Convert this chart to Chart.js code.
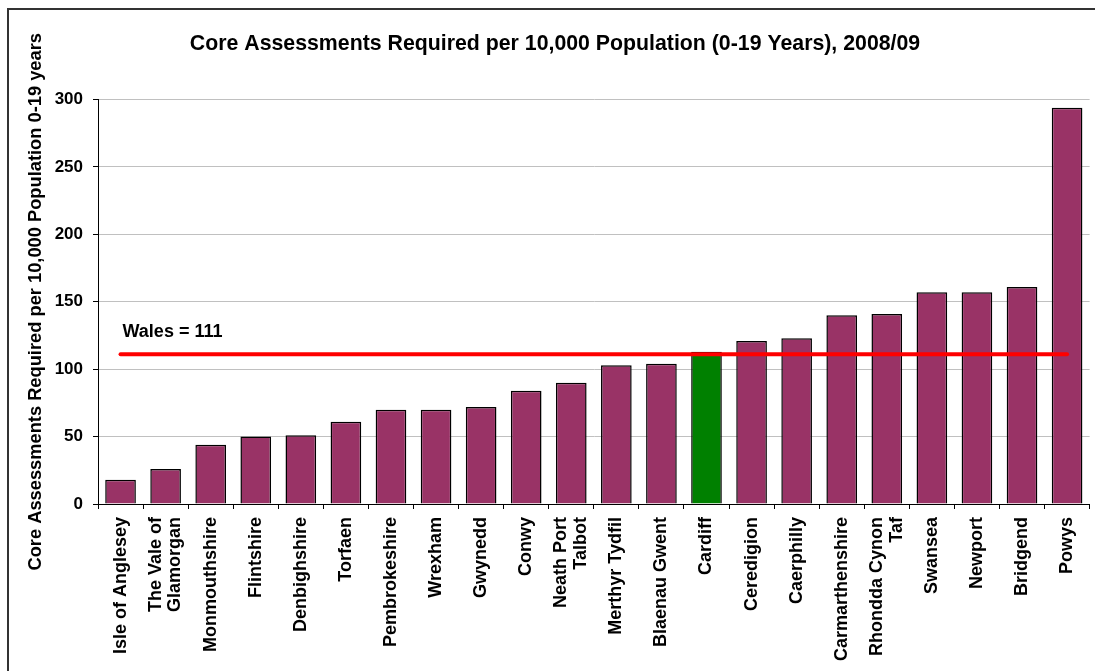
<!DOCTYPE html>
<html>
<head>
<meta charset="utf-8">
<title>Core Assessments Required per 10,000 Population</title>
<script src="https://cdn.jsdelivr.net/npm/chart.js@4"></script>
<style>
    body { margin: 0; background: #fff; }
    #wrap { width: 1095px; height: 671px; position: relative; }
</style>
</head>
<body>
<div id="wrap"><canvas id="chart"></canvas></div>
<script>
// values
const regions = [
    'Isle of Anglesey', 'The Vale of Glamorgan', 'Monmouthshire', 'Flintshire',
    'Denbighshire', 'Torfaen', 'Pembrokeshire', 'Wrexham', 'Gwynedd', 'Conwy',
    'Neath Port Talbot', 'Merthyr Tydfil', 'Blaenau Gwent', 'Cardiff', 'Ceredigion',
    'Caerphilly', 'Carmarthenshire', 'Rhondda Cynon Taf', 'Swansea', 'Newport',
    'Bridgend', 'Powys'
];
const assessments = [
    18, 26, 44, 50, 51, 61, 70, 70, 72, 84,
    90, 103, 104, 113, 121, 123, 140, 141, 157, 157,
    161, 294
];
const walesAverage = 111;
const highlightRegion = 'Cardiff';
const yTicks = { min: 0, max: 300, step: 50 };

// labels that wrap onto two lines in the original
const wrapped = {
    'The Vale of Glamorgan': ['The Vale of', 'Glamorgan'],
    'Neath Port Talbot': ['Neath Port', 'Talbot'],
    'Rhondda Cynon Taf': ['Rhondda Cynon', 'Taf']
};

const FONT = "'Liberation Sans', Arial, sans-serif";

const framePlugin = {
    id: 'frame',
    beforeDraw(chart) {
        const ctx = chart.ctx;
        ctx.save();
        ctx.fillStyle = '#fff';
        ctx.fillRect(0, 0, chart.width, chart.height);
        ctx.strokeStyle = '#333';
        ctx.lineWidth = 2;
        ctx.beginPath();
        ctx.moveTo(8, chart.height);
        ctx.lineTo(8, 9);
        ctx.lineTo(chart.width, 9);
        ctx.stroke();
        ctx.restore();

        // chart.js puts the first line of a rotated label on the tick;
        // centre the wrapped ones on their bar instead
        chart.scales.x.getLabelItems(chart.chartArea).forEach(item => {
            if (Array.isArray(item.label) && !item._centred) {
                item.options.translation[0] -= (item.label.length - 1) * item.font.lineHeight / 2;
                item._centred = true;
            }
        });
    }
};

const walesLabel = {
    id: 'walesLabel',
    afterDatasetsDraw(chart) {
        const x = chart.scales.x.getPixelForValue(0) + 2;
        const y = chart.scales.y.getPixelForValue(walesAverage) - 17;
        const ctx = chart.ctx;
        ctx.save();
        ctx.font = 'bold 18px ' + FONT;
        ctx.fillStyle = '#000';
        ctx.textAlign = 'left';
        ctx.textBaseline = 'alphabetic';
        ctx.fillText('Wales = ' + walesAverage, x, y);
        ctx.restore();
    }
};

const ctx = document.getElementById('chart').getContext('2d');
new Chart(ctx, {
    type: 'bar',
    data: {
        labels: regions,
        datasets: [{
            type: 'line',
            label: 'Wales',
            data: [
                { x: regions[0], y: walesAverage },
                { x: regions[regions.length - 1], y: walesAverage }
            ],
            borderColor: '#ff0000',
            borderWidth: 4,
            borderCapStyle: 'round',
            pointRadius: 0,
            order: 0
        }, {
            label: 'Core assessments',
            data: assessments,
            backgroundColor: regions.map(r => r === highlightRegion ? '#008000' : '#993366'),
            borderColor: '#000',
            borderWidth: 1.5,
            barPercentage: 0.68,
            categoryPercentage: 1,
            order: 1
        }]
    },
    options: {
        responsive: true,
        maintainAspectRatio: false,
        animation: false,
        layout: { padding: { left: 20, right: 5, top: 0, bottom: 0 } },
        plugins: {
            legend: { display: false },
            tooltip: { enabled: false },
            title: {
                display: true,
                text: 'Core Assessments Required per 10,000 Population (0-19 Years), 2008/09',
                color: '#000',
                font: { family: FONT, size: 21.3, weight: 'bold' },
                padding: { top: 31, bottom: 43 }
            }
        },
        scales: {
            x: {
                grid: {
                    drawOnChartArea: false,
                    tickLength: 5,
                    tickColor: '#000',
                    offset: true
                },
                border: { color: '#000', width: 1 },
                ticks: {
                    autoSkip: false,
                    maxRotation: 90,
                    minRotation: 90,
                    padding: 8,
                    color: '#000',
                    font: { family: FONT, size: 18, weight: 'bold', lineHeight: 1.1 },
                    callback: function (value, i) {
                        const name = regions[i];
                        return wrapped[name] || name;
                    }
                },
                afterFit(scale) { scale.height = 167; }
            },
            y: {
                min: yTicks.min,
                max: yTicks.max,
                grid: {
                    color: '#c0c0c0',
                    tickLength: 5,
                    tickColor: '#000'
                },
                border: { color: '#000', width: 1 },
                ticks: {
                    stepSize: yTicks.step,
                    padding: 10,
                    color: '#000',
                    font: { family: FONT, size: 17, weight: 'bold' }
                },
                title: {
                    display: true,
                    text: 'Core Assessments Required per 10,000 Population 0-19 years',
                    color: '#000',
                    font: { family: FONT, size: 18.3, weight: 'bold' },
                    padding: { top: 5, bottom: 0 }
                },
                afterFit(scale) { scale.width = 78; }
            }
        }
    },
    plugins: [framePlugin, walesLabel]
});
</script>
</body>
</html>
